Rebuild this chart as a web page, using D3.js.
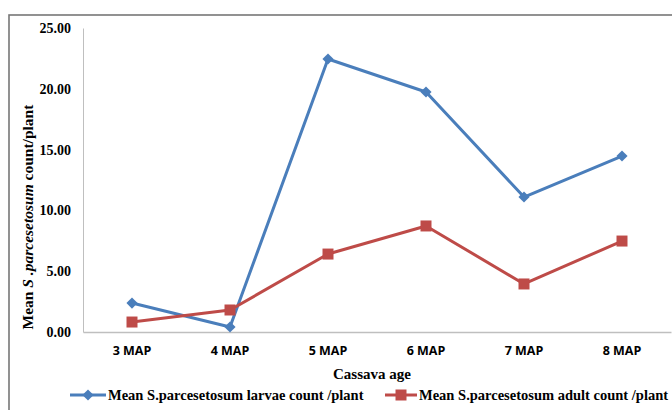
<!DOCTYPE html>
<html><head><meta charset="utf-8">
<script src="https://cdn.jsdelivr.net/npm/d3@7"></script>
<style>body{margin:0;background:#fff}svg{display:block}
.serif{font-family:"Liberation Serif","Times New Roman",Times,serif;font-weight:bold;fill:#000}
</style>
</head><body>
<script>
const categories = ["3 MAP","4 MAP","5 MAP","6 MAP","7 MAP","8 MAP"];
const larvae = [2.38, 0.41, 22.45, 19.74, 11.10, 14.47];
const adult = [0.82, 1.81, 6.41, 8.72, 3.95, 7.48];
const yTicks = [0, 5, 10, 15, 20, 25];
const seriesNames = ["Mean S.parcesetosum larvae count /plant", "Mean S.parcesetosum adult count /plant"];

(function () {
const W = 672, H = 410;
const svg = d3.select("body").append("svg").attr("width", W).attr("height", H);
svg.append("rect").attr("width", W).attr("height", H).attr("fill", "#fff");
svg.append("rect").attr("x", 9).attr("y", 15).attr("width", 700).attr("height", 420)
  .attr("fill", "none").attr("stroke", "#777").attr("stroke-width", 1.6);

const mLeft = 83, mRight = 671, mTop = 28, mBottom = 332;
const x = d3.scaleBand().domain(categories).range([mLeft, mRight]).padding(0);
const y = d3.scaleLinear().domain([0, 25]).range([mBottom, mTop]);

const yAxis = svg.append("g").attr("transform", `translate(${mLeft},0)`)
  .call(d3.axisLeft(y).tickValues(yTicks).tickSize(0).tickPadding(12).tickFormat(d3.format(".2f")));
yAxis.select(".domain").attr("stroke", "#bfbfbf").attr("stroke-width", 1);
yAxis.attr("font-family", null).attr("font-size", null);
yAxis.selectAll("text").attr("class", "serif").style("font-size", "14px");

const xAxis = svg.append("g").attr("transform", `translate(0,${mBottom})`)
  .call(d3.axisBottom(x).tickSize(0).tickPadding(14));
xAxis.select(".domain").attr("stroke", "#bfbfbf").attr("stroke-width", 1.5);
xAxis.selectAll("text").attr("font-family", "Open Sans, Liberation Sans, Arial, sans-serif")
  .attr("font-weight", "bold").attr("font-size", 12.5).attr("fill", "#000");

svg.append("text").attr("class", "serif").attr("x", 372).attr("y", 379).attr("text-anchor", "middle")
  .style("font-size", "15px").text("Cassava age");
const yt = svg.append("text").attr("class", "serif").attr("transform", "translate(33,217) rotate(-90)")
  .attr("text-anchor", "middle").style("font-size", "15.5px");
yt.append("tspan").text("Mean ");
yt.append("tspan").style("font-style", "italic").text("S .parcesetosum");
yt.append("tspan").text(" count/plant");

const cx = d => x(d) + x.bandwidth() / 2;
const line = d3.line().x((d, i) => cx(categories[i])).y(d => y(d));
const colors = ["#4a7ebb", "#be4b48"];
const symPath = k => d3.symbol().type(d3.symbolSquare).size(k === 0 ? 62 : 121)();

[larvae, adult].forEach((data, k) => {
  svg.append("path").datum(data).attr("d", line).attr("fill", "none")
    .attr("stroke", colors[k]).attr("stroke-width", 3).attr("stroke-linejoin", "round");
  svg.append("g").selectAll("path").data(data).join("path")
    .attr("d", symPath(k))
    .attr("transform", (d, i) => `translate(${cx(categories[i])},${y(d)})` + (k === 0 ? " rotate(45)" : ""))
    .attr("fill", colors[k]);
});

const legend = [{x0: 70, x1: 106, tx: 108}, {x0: 385, x1: 417, tx: 419}];
legend.forEach((L, k) => {
  const g = svg.append("g");
  const ly = 395;
  g.append("line").attr("x1", L.x0).attr("x2", L.x1).attr("y1", ly).attr("y2", ly)
    .attr("stroke", colors[k]).attr("stroke-width", 3);
  g.append("path").attr("transform", `translate(${(L.x0 + L.x1) / 2},${ly})` + (k === 0 ? " rotate(45)" : ""))
    .attr("d", symPath(k)).attr("fill", colors[k]);
  g.append("text").attr("class", "serif").attr("x", L.tx).attr("y", ly + 5)
    .style("font-size", "14.5px").text(seriesNames[k]);
});
})();
</script>
</body></html>
